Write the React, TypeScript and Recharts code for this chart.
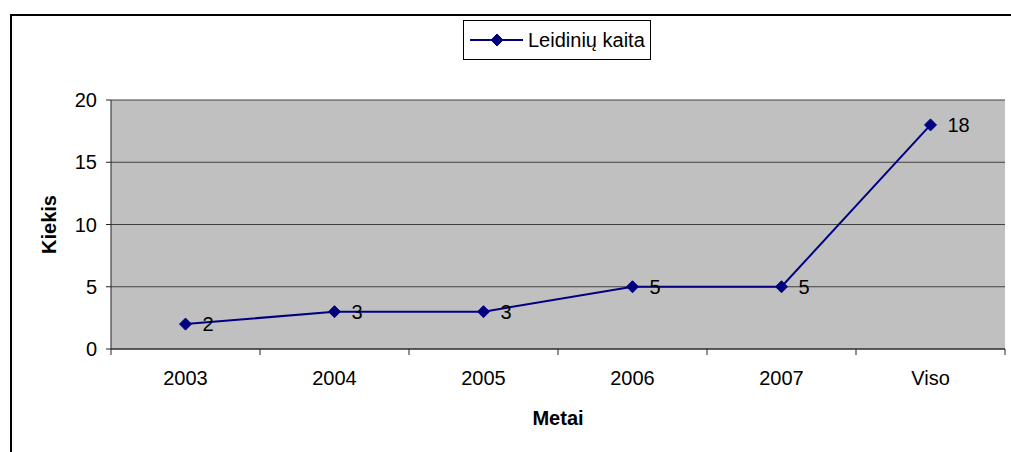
import React from "react";
import {
  LineChart,
  Line,
  XAxis,
  YAxis,
  CartesianGrid,
  Legend,
  LabelList,
  Label,
} from "recharts";

const years = ["2003", "2004", "2005", "2006", "2007", "Viso"];
const counts = [2, 3, 3, 5, 5, 18];
const yTicks = [0, 5, 10, 15, 20];
const seriesName = "Leidinių kaita";

const data = years.map((year, i) => ({ year, count: counts[i] }));

const NAVY = "#000080";
const FONT = "'Liberation Sans', Arial, sans-serif";

// diamond marker like the old Excel default
const Diamond = ({ cx, cy, r = 6, key }: any) => (
  <path
    key={key}
    d={`M${cx},${cy - r} L${cx + r},${cy} L${cx},${cy + r} L${cx - r},${cy} Z`}
    fill={NAVY}
    stroke={NAVY}
  />
);

// category labels centred, tick marks on the category boundaries
const YearTick = (props: any) => {
  const { x, y, payload, index, visibleTicksCount, width } = props;
  const n = visibleTicksCount || years.length;
  const half = (width || 894) / (n * 2);
  const axisY = y - 6;
  return (
    <g>
      <line x1={x - half} x2={x - half} y1={axisY} y2={axisY + 6} stroke="#222" />
      {index === n - 1 && (
        <line x1={x + half} x2={x + half} y1={axisY} y2={axisY + 6} stroke="#222" />
      )}
      <text x={x} y={axisY + 36} textAnchor="middle" fontSize={20} fill="#000" fontFamily={FONT}>
        {payload.value}
      </text>
    </g>
  );
};

const LegendBox = () => (
  <div
    style={{
      width: 186,
      height: 38,
      border: "1px solid #000",
      background: "#fff",
      position: "relative",
      fontFamily: FONT,
    }}
  >
    <svg width={62} height={38} style={{ position: "absolute", left: 0, top: 0 }}>
      <line x1={6} x2={59} y1={19} y2={19} stroke={NAVY} strokeWidth={2} />
      <Diamond cx={33} cy={19} />
    </svg>
    <span
      style={{
        position: "absolute",
        left: 64,
        top: 0,
        lineHeight: "38px",
        fontSize: 20,
        color: "#000",
        whiteSpace: "nowrap",
      }}
    >
      {seriesName}
    </span>
  </div>
);

export default function App() {
  return (
    <div
      style={{
        position: "absolute",
        left: 0,
        top: 0,
        width: 1011,
        height: 452,
        overflow: "hidden",
        background: "#fff",
        fontFamily: FONT,
      }}
    >
      {/* outer chart border, runs off the right and bottom edge */}
      <div
        style={{
          position: "absolute",
          left: 10,
          top: 14,
          width: 1010,
          height: 450,
          border: "2px solid #000",
          boxSizing: "border-box",
        }}
      />
      <LineChart
        width={1011}
        height={452}
        data={data}
        margin={{ top: 100, right: 6, bottom: 43, left: 0 }}
        style={{ position: "absolute", left: 0, top: 0 }}
      >
        <CartesianGrid
          vertical={false}
          fill="#C0C0C0"
          fillOpacity={1}
          stroke="#404040"
        />
        <XAxis
          dataKey="year"
          scale="band"
          height={60}
          tickLine={false}
          tickSize={6}
          tickMargin={0}
          axisLine={{ stroke: "#222" }}
          tick={<YearTick />}
          interval={0}
        >
          <Label
            content={({ viewBox }: any) => (
              <text
                x={viewBox.x + viewBox.width / 2}
                y={viewBox.y + 76}
                textAnchor="middle"
                fontSize={20}
                fontWeight="bold"
                fill="#000"
                fontFamily={FONT}
              >
                Metai
              </text>
            )}
          />
        </XAxis>
        <XAxis
          xAxisId="top"
          dataKey="year"
          orientation="top"
          height={0}
          tick={false}
          tickLine={false}
          axisLine={{ stroke: "#808080" }}
        />
        <YAxis
          width={111}
          domain={[0, 20]}
          ticks={yTicks}
          tickSize={5}
          tickMargin={9}
          tick={{ fontSize: 20, fill: "#000", fontFamily: FONT }}
          axisLine={{ stroke: "#222" }}
          tickLine={{ stroke: "#222" }}
        >
          <Label
            content={({ viewBox }: any) => {
              const cx = viewBox.x + 49;
              const cy = viewBox.y + viewBox.height / 2;
              return (
                <text
                  x={cx}
                  y={cy}
                  transform={`rotate(-90 ${cx} ${cy})`}
                  textAnchor="middle"
                  dominantBaseline="central"
                  fontSize={20}
                  fontWeight="bold"
                  fill="#000"
                  fontFamily={FONT}
                >
                  Kiekis
                </text>
              );
            }}
          />
        </YAxis>
        <YAxis
          yAxisId="right"
          orientation="right"
          width={0}
          domain={[0, 20]}
          tick={false}
          tickLine={false}
          axisLine={{ stroke: "#808080" }}
        />
        <Legend
          layout="vertical"
          align="center"
          verticalAlign="middle"
          wrapperStyle={{ left: 463, top: 20, width: 188, height: 40 }}
          content={<LegendBox />}
        />
        <Line
          type="linear"
          dataKey="count"
          name={seriesName}
          stroke={NAVY}
          strokeWidth={2}
          dot={(p: any) => <Diamond key={p.index} cx={p.cx} cy={p.cy} />}
          activeDot={false}
          isAnimationActive={false}
        >
          <LabelList
            dataKey="count"
            position="right"
            offset={17}
            fontSize={20}
            fill="#000"
            fontFamily={FONT}
          />
        </Line>
      </LineChart>
    </div>
  );
}
